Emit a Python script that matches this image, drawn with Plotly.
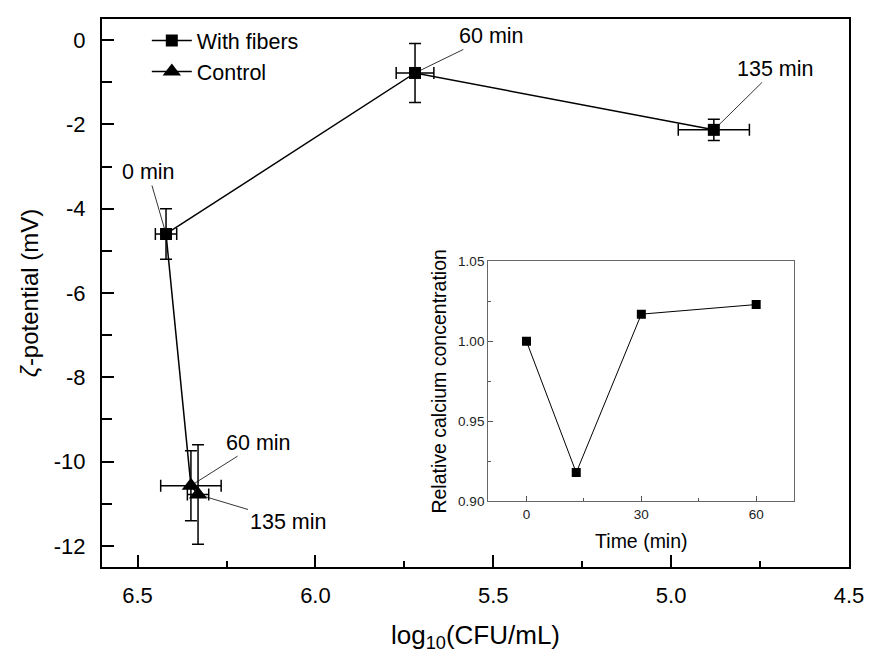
import plotly.graph_objects as go

# ---- data ----
fib_x = [6.42, 5.72, 4.88]
fib_y = [-4.6, -0.78, -2.13]
fib_xerr = [0.03, 0.053, 0.10]
fib_yerr = [0.6, 0.7, 0.25]
fib_labels = ["0 min", "60 min", "135 min"]

ctl_x = [6.35, 6.33]
ctl_y = [-10.57, -10.78]
ctl_xerr = [0.085, 0.03]
ctl_yerr = [0.83, 1.18]
ctl_labels = ["60 min", "135 min"]

ins_t = [0, 13, 30, 60]
ins_ca = [1.000, 0.918, 1.017, 1.023]
ins_err = [0.001, 0.001, 0.002, 0.001]

y_ticks = [0, -2, -4, -6, -8, -10, -12]
y_ticktext = ["0", "-2", "-4", "-6", "-8", "-10", "-12"]
x_ticks = [6.5, 6.0, 5.5, 5.0, 4.5]
x_ticktext = ["6.5", "6.0", "5.5", "5.0", "4.5"]
ins_yticks = [0.90, 0.95, 1.00, 1.05]
ins_xticks = [0, 30, 60]

FONT = "Liberation Sans, Arial, sans-serif"

fig = go.Figure()

fig.add_trace(go.Scatter(
    x=fib_x, y=fib_y, mode="lines+markers", name="With fibers",
    line=dict(color="black", width=1.5),
    marker=dict(symbol="square", size=12, color="black"),
    error_x=dict(type="data", array=fib_xerr, color="black", thickness=1.5, width=6),
    error_y=dict(type="data", array=fib_yerr, color="black", thickness=1.5, width=6),
))

# connecting segment from the 0 min point to the first control point
fig.add_trace(go.Scatter(
    x=[fib_x[0], ctl_x[0]], y=[fib_y[0], ctl_y[0]], mode="lines",
    line=dict(color="black", width=1.5), showlegend=False, hoverinfo="skip",
))

fig.add_trace(go.Scatter(
    x=ctl_x, y=ctl_y, mode="lines+markers", name="Control",
    line=dict(color="black", width=1.5),
    marker=dict(symbol="triangle-up", size=16, color="black"),
    error_x=dict(type="data", array=ctl_xerr, color="black", thickness=1.5, width=6),
    error_y=dict(type="data", array=ctl_yerr, color="black", thickness=1.5, width=6),
))

# inset
fig.add_trace(go.Scatter(
    x=ins_t, y=ins_ca, mode="lines+markers", xaxis="x2", yaxis="y2",
    line=dict(color="black", width=1),
    marker=dict(symbol="square", size=9, color="black"),
    error_y=dict(type="data", array=ins_err, color="black", thickness=1, width=3),
    showlegend=False,
))

# annotations
fib_off = [(-18, -62), (76, -37), (62, -61)]
for x, y, t, (ax, ay) in zip(fib_x, fib_y, fib_labels, fib_off):
    fig.add_annotation(x=x, y=y, text=t, showarrow=True, arrowhead=0,
                       arrowwidth=0.8, arrowcolor="black", ax=ax, ay=ay,
                       font=dict(family=FONT, size=21.5, color="black"))
ctl_off = [(68, -43), (90, 27)]
for x, y, t, (ax, ay) in zip(ctl_x, ctl_y, ctl_labels, ctl_off):
    fig.add_annotation(x=x, y=y, text=t, showarrow=True, arrowhead=0,
                       arrowwidth=0.8, arrowcolor="black", ax=ax, ay=ay,
                       font=dict(family=FONT, size=21.5, color="black"))

fig.update_layout(
    width=876, height=657,
    margin=dict(l=102, r=20, t=14, b=89),
    paper_bgcolor="white", plot_bgcolor="white",
    font=dict(family=FONT, size=22, color="black"),
    legend=dict(x=0.06, y=0.998, xanchor="left", yanchor="top",
                bgcolor="rgba(0,0,0,0)", font=dict(size=21.5), tracegroupgap=0,
                itemwidth=40),
    xaxis=dict(range=[6.6, 4.5], tickvals=x_ticks, ticktext=x_ticktext,
               ticks="inside", ticklen=12, tickwidth=2, tickcolor="black",
               minor=dict(ticks="inside", ticklen=6, tickwidth=2, tickcolor="black",
                          tickvals=[6.25, 5.75, 5.25, 4.75]),
               showline=True, linecolor="black", linewidth=2, mirror=True,
               showgrid=False, zeroline=False, ticklabelstandoff=8,
               title=dict(text="log<sub>10</sub>(CFU/mL)", font=dict(size=26), standoff=18),
               tickfont=dict(size=22)),
    yaxis=dict(range=[-12.5, 0.5], tickvals=y_ticks, ticktext=y_ticktext,
               ticks="inside", ticklen=12, tickwidth=2, tickcolor="black",
               minor=dict(ticks="inside", ticklen=10, tickwidth=2, tickcolor="black",
                          tickvals=[-1, -3, -5, -7, -9, -11]),
               showline=True, linecolor="black", linewidth=2, mirror=True,
               showgrid=False, zeroline=False, ticklabelstandoff=10,
               title=dict(text="<i>ζ</i>-potential (mV)", font=dict(size=24), standoff=8),
               tickfont=dict(size=22)),
    xaxis2=dict(domain=[0.517, 0.927], anchor="y2", range=[-10, 70],
                tickvals=ins_xticks, ticks="inside", ticklen=5, tickcolor="#555",
                minor=dict(ticks="inside", ticklen=3, tickcolor="#555", tickvals=[15, 45]),
                showline=True, linecolor="#666", linewidth=1.2, mirror=True,
                showgrid=False, zeroline=False,
                title=dict(text="Time (min)", font=dict(size=19.5), standoff=13),
                tickfont=dict(size=13.5, color="#222")),
    yaxis2=dict(domain=[0.1197, 0.5578], anchor="x2", range=[0.90, 1.05],
                tickvals=ins_yticks, tickformat=".2f", ticks="inside", ticklen=5,
                tickcolor="#555",
                minor=dict(ticks="inside", ticklen=3, tickcolor="#555",
                           tickvals=[0.925, 0.975, 1.025]),
                showline=True, linecolor="#666", linewidth=1.2, mirror=True,
                showgrid=False, zeroline=False,
                title=dict(text="Relative calcium concentration", font=dict(size=19.5), standoff=6),
                tickfont=dict(size=13.5, color="#222")),
)

fig.write_html("out.html")
